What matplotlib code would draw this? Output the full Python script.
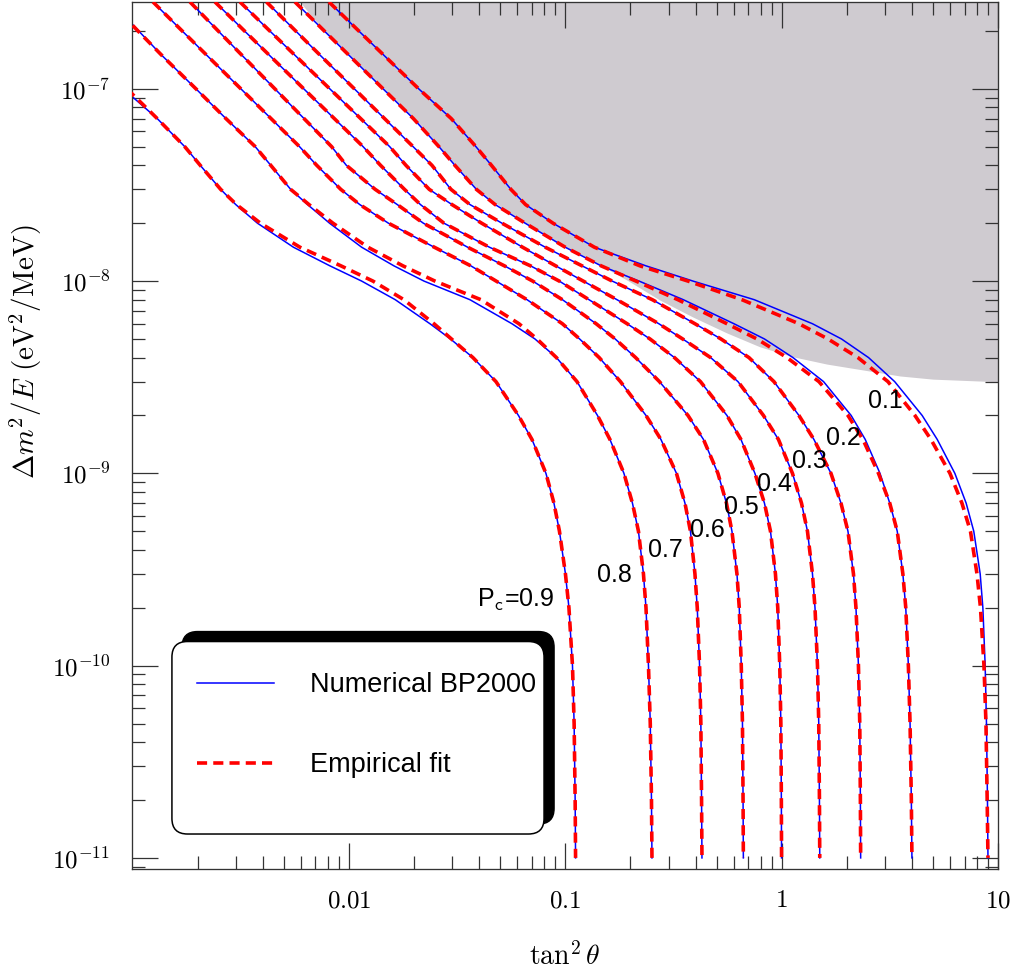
import numpy as np
import matplotlib
matplotlib.use('Agg')
import matplotlib.pyplot as plt
from matplotlib.patches import FancyBboxPatch
from matplotlib.ticker import FixedLocator, FixedFormatter, LogLocator, NullFormatter

plt.rcParams['mathtext.fontset'] = 'cm'
plt.rcParams['font.family'] = ['Liberation Sans', 'DejaVu Sans']

nan = np.nan

# common grid of Delta m^2/E values (eV^2/MeV) at which each contour was read
dm2 = [2.83e-7, 2e-7, 1.5e-7, 1e-7, 7e-8, 5e-8, 4e-8, 3e-8, 2.5e-8, 2e-8,
       1.5e-8, 1.2e-8, 1e-8, 8e-9, 6e-9, 5e-9, 4e-9, 3e-9, 2e-9, 1.5e-9,
       1e-9, 7e-10, 5e-10, 3e-10, 2e-10, 1e-10, 5e-11, 2e-11, 1e-11]

# tan^2(theta) of each P_c contour, numerical BP2000
num_09 = [nan, nan, nan, 9.07e-4, 1.302e-3, 1.745e-3, 2.057e-3, 2.556e-3, 3.002e-3, 3.782e-3,
          5.546e-3, 8.177e-3, 1.146e-2, 1.639e-2, 2.370e-2, 2.948e-2, 3.745e-2, 4.784e-2, 6.078e-2, 7.019e-2,
          8.143e-2, 8.866e-2, 9.402e-2, 0.1002, 0.1040, 0.1080, 0.1099, 0.1111, 0.1116]
num_08 = [7.98e-4, 1.068e-3, 1.361e-3, 1.965e-3, 2.704e-3, 3.694e-3, 4.356e-3, 5.383e-3, 6.446e-3, 8.145e-3,
          1.146e-2, 1.616e-2, 2.224e-2, 3.628e-2, 5.672e-2, 7.244e-2, 9.105e-2, 0.1133, 0.1409, 0.1609,
          0.1867, 0.2044, 0.2179, 0.2298, 0.2361, 0.2424, 0.2471, 0.2503, 0.2516]
num_07 = [1.244e-3, 1.697e-3, 2.198e-3, 3.169e-3, 4.370e-3, 5.918e-3, 7.107e-3, 9.176e-3, 1.123e-2, 1.524e-2,
          2.482e-2, 3.663e-2, 4.794e-2, 6.661e-2, 9.70e-2, 0.1165, 0.1435, 0.1799, 0.2361, 0.2768,
          0.3265, 0.3574, 0.3789, 0.3975, 0.4074, 0.4175, 0.4233, 0.4265, 0.4283]
num_06 = [1.844e-3, 2.489e-3, 3.196e-3, 4.550e-3, 6.208e-3, 8.328e-3, 9.737e-3, 1.323e-2, 1.674e-2, 2.210e-2,
          3.540e-2, 5.237e-2, 7.070e-2, 9.707e-2, 0.1389, 0.1701, 0.2115, 0.2724, 0.3691, 0.4353,
          0.5076, 0.5558, 0.5893, 0.6215, 0.6370, 0.6507, 0.6590, 0.6633, 0.6653]
num_05 = [2.406e-3, 3.293e-3, 4.278e-3, 6.188e-3, 8.570e-3, 1.164e-2, 1.401e-2, 1.807e-2, 2.142e-2, 2.751e-2,
          4.463e-2, 6.913e-2, 9.382e-2, 0.1288, 0.1932, 0.2463, 0.3197, 0.4215, 0.5588, 0.6486,
          0.7525, 0.8327, 0.8879, 0.9360, 0.9594, 0.9800, 0.9916, 0.9969, 0.999]
num_04 = [3.139e-3, 4.310e-3, 5.617e-3, 8.162e-3, 1.134e-2, 1.545e-2, 1.836e-2, 2.352e-2, 2.995e-2, 4.109e-2,
          6.350e-2, 9.037e-2, 0.1211, 0.1735, 0.2707, 0.3488, 0.4698, 0.6282, 0.8240, 0.9666,
          1.122, 1.235, 1.316, 1.388, 1.426, 1.464, 1.484, 1.495, 1.500]
num_03 = [4.161e-3, 5.677e-3, 7.345e-3, 1.060e-2, 1.462e-2, 1.982e-2, 2.421e-2, 2.964e-2, 3.628e-2, 5.099e-2,
          8.084e-2, 0.1196, 0.1648, 0.2527, 0.3975, 0.5241, 0.7063, 0.9212, 1.202, 1.410,
          1.690, 1.880, 2.025, 2.147, 2.205, 2.264, 2.296, 2.311, 2.318]
num_02 = [5.635e-3, 7.697e-3, 9.979e-3, 1.439e-2, 1.987e-2, 2.609e-2, 3.090e-2, 3.884e-2, 4.743e-2, 6.528e-2,
          0.1000, 0.1465, 0.2193, 0.3514, 0.6020, 0.8327, 1.128, 1.562, 2.095, 2.434,
          2.847, 3.159, 3.421, 3.632, 3.746, 3.851, 3.921, 3.975, 4.000]
num_01 = [8.092e-3, 1.111e-2, 1.447e-2, 2.102e-2, 2.973e-2, 3.867e-2, 4.560e-2, 5.607e-2, 6.556e-2, 8.781e-2,
          0.1364, 0.2361, 0.3892, 0.7478, 1.388, 1.890, 2.521, 3.329, 4.460, 5.237,
          6.315, 7.121, 7.723, 8.269, 8.508, 8.719, 8.841, 8.935, 8.983]

# empirical fit, same grid
fit_09 = [nan, nan, nan, 9.43e-4, 1.302e-3, 1.745e-3, 2.057e-3, 2.556e-3, 3.024e-3, 3.904e-3,
          5.943e-3, 9.194e-3, 1.292e-2, 1.797e-2, 2.474e-2, 2.979e-2, 3.745e-2, 4.784e-2, 6.078e-2, 7.019e-2,
          8.143e-2, 8.866e-2, 9.402e-2, 0.1002, 0.1040, 0.1080, 0.1099, 0.1111, 0.1116]
fit_08 = [7.9e-4, 1.06e-3, 1.361e-3, 1.965e-3, 2.704e-3, 3.694e-3, 4.356e-3, 5.383e-3, 6.543e-3, 8.444e-3,
          1.225e-2, 1.778e-2, 2.500e-2, 4.078e-2, 6.110e-2, 7.400e-2, 9.105e-2, 0.1133, 0.1409, 0.1609,
          0.1867, 0.2044, 0.2179, 0.2298, 0.2361, 0.2424, 0.2471, 0.2503, 0.2516]
fit_07 = list(num_07)
fit_06 = list(num_06)
fit_05 = list(num_05)
fit_04 = list(num_04)
fit_03 = list(num_03)
fit_02 = [5.635e-3, 7.697e-3, 9.979e-3, 1.439e-2, 1.987e-2, 2.609e-2, 3.090e-2, 3.884e-2, 4.743e-2, 6.528e-2,
          0.1000, 0.1465, 0.2122, 0.3318, 0.5588, 0.769, 1.058, 1.487, 2.025, 2.375,
          2.802, 3.159, 3.421, 3.632, 3.746, 3.851, 3.921, 3.975, 4.000]
fit_01 = [8.092e-3, 1.111e-2, 1.447e-2, 2.102e-2, 2.973e-2, 3.867e-2, 4.560e-2, 5.607e-2, 6.556e-2, 8.781e-2,
          0.1364, 0.2214, 0.3691, 0.6557, 1.202, 1.637, 2.252, 3.099, 4.130, 4.898,
          5.995, 6.810, 7.456, 7.992, 8.295, 8.609, 8.794, 8.907, 8.983]

# lower edge of the shaded region
grey_tan2 = [5.943e-3, 7.673e-3, 1.001e-2, 1.438e-2, 1.978e-2, 2.609e-2, 3.093e-2, 3.867e-2, 4.835e-2, 6.514e-2,
             9.452e-2, 0.1343, 0.1928, 0.2739, 0.3892, 0.5588, 0.7938, 1.128, 1.620, 2.301,
             3.521, 5.003, 10.0]
grey_dm2 = [2.83e-7, 2e-7, 1.5e-7, 1e-7, 7e-8, 5e-8, 4e-8, 3e-8, 2.514e-8, 2e-8,
            1.539e-8, 1.27e-8, 1.012e-8, 7.96e-9, 6.50e-9, 5.37e-9, 4.55e-9, 4.04e-9, 3.70e-9, 3.47e-9,
            3.21e-9, 3.09e-9, 2.995e-9]

# contour labels and where they sit
lab_text = [r'P$_\mathsf{c}$=0.9', '0.8', '0.7', '0.6', '0.5', '0.4', '0.3', '0.2', '0.1']
lab_x = [0.0592, 0.168, 0.289, 0.452, 0.649, 0.931, 1.337, 1.92, 3.0]
lab_y = [2.19e-10, 2.96e-10, 3.99e-10, 5.07e-10, 6.68e-10, 8.80e-10, 1.159e-9, 1.53e-9, 2.38e-9]

num_all = [num_09, num_08, num_07, num_06, num_05, num_04, num_03, num_02, num_01]
fit_all = [fit_09, fit_08, fit_07, fit_06, fit_05, fit_04, fit_03, fit_02, fit_01]

fig = plt.figure(figsize=(10.15, 9.71), dpi=100)
ax = fig.add_axes([0.1305, 0.105, 0.8528, 0.893])
ax.set_xscale('log')
ax.set_yscale('log')
ax.set_xlim(1e-3, 10)
ax.set_ylim(8.75e-12, 2.83e-7)

ax.fill_between(grey_tan2, grey_dm2, 1e-6, color='#cfcbd0', lw=0, zorder=0)

for num, fit in zip(num_all, fit_all):
    l_num, = ax.plot(num, dm2, color='blue', lw=1.1, zorder=2, solid_joinstyle='round')
    l_fit, = ax.plot(fit, dm2, color='red', lw=2.6, dashes=(2.8, 1.7), zorder=3)

for t, x, y in zip(lab_text, lab_x, lab_y):
    ax.text(x, y, t, fontsize=18, ha='center', va='center', zorder=4)

# axes, ticks
ax.xaxis.set_major_locator(FixedLocator([0.01, 0.1, 1, 10]))
ax.xaxis.set_major_formatter(FixedFormatter(['$0.01$', '$0.1$', '$1$', '$10$']))
ax.xaxis.set_minor_locator(LogLocator(base=10, subs=np.arange(2, 10), numticks=20))
ax.xaxis.set_minor_formatter(NullFormatter())
ax.yaxis.set_major_locator(FixedLocator([1e-11, 1e-10, 1e-9, 1e-8, 1e-7]))
ax.yaxis.set_major_formatter(FixedFormatter([r'$10^{-11}$', r'$10^{-10}$', r'$10^{-9}$',
                                             r'$10^{-8}$', r'$10^{-7}$']))
ax.yaxis.set_minor_locator(LogLocator(base=10, subs=np.arange(2, 10), numticks=20))
ax.yaxis.set_minor_formatter(NullFormatter())

ax.tick_params(which='both', direction='in', top=True, right=True, color='#333333', width=0.9)
ax.tick_params(which='major', length=18.5)
ax.tick_params(which='minor', length=9.3)
ax.tick_params(axis='x', which='major', labelsize=18, pad=14)
ax.tick_params(axis='y', which='major', labelsize=18, pad=16)
for s in ax.spines.values():
    s.set_color('#333333')
    s.set_linewidth(0.95)

ax.set_xlabel(r'$\tan^2\theta$', fontsize=20, va='center')
ax.set_ylabel(r'$\Delta m^2/E\ (\mathrm{eV}^2/\mathrm{MeV})$', fontsize=21, va='center')
ax.xaxis.set_label_coords(0.5, -0.1015)
ax.yaxis.set_label_coords(-0.123, 0.597)

# legend box with its offset shadow
bx, by, bw, bh = 0.0456, 0.0404, 0.4299, 0.222
shadow = FancyBboxPatch((bx + 0.0116, by + 0.0115), bw, bh, boxstyle='round,pad=0,rounding_size=0.018',
                        transform=ax.transAxes, facecolor='black', edgecolor='black', zorder=5)
box = FancyBboxPatch((bx, by), bw, bh, boxstyle='round,pad=0,rounding_size=0.018',
                     transform=ax.transAxes, facecolor='white', edgecolor='black', lw=1.1, zorder=6)
ax.add_patch(shadow)
ax.add_patch(box)
leg = ax.legend([l_num, l_fit], ['Numerical BP2000', 'Empirical fit'], loc='upper left',
                bbox_to_anchor=(0.0745, 0.2272), frameon=False, fontsize=19.5, borderpad=0,
                handlelength=2.84, handletextpad=1.33, labelspacing=2.0, borderaxespad=0)
leg.set_zorder(7)

fig.savefig('out.png', dpi=100)
